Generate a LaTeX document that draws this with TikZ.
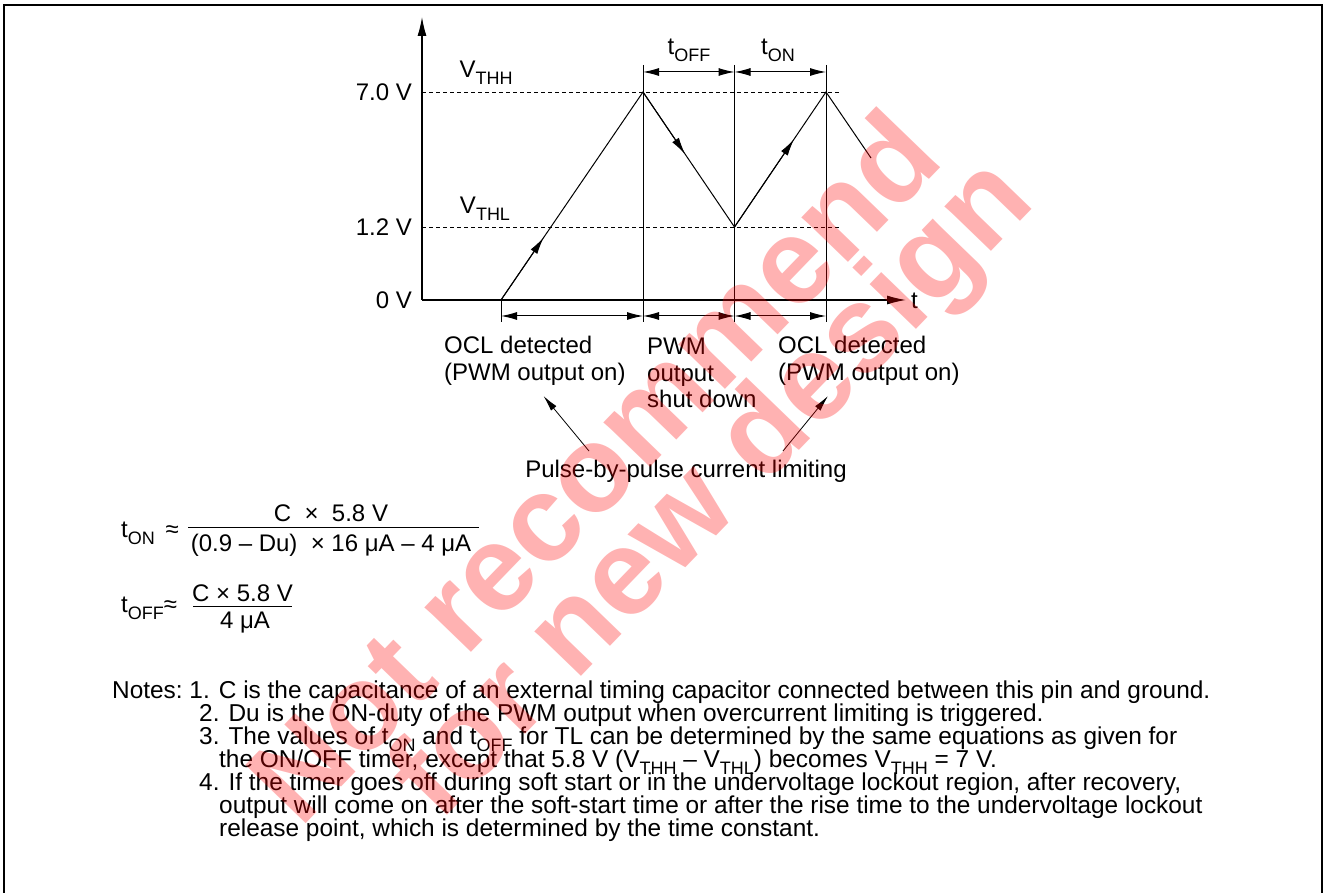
\documentclass[tikz,border=0pt]{standalone}
\usepackage{fontspec}
\setmainfont{Liberation Sans}
\usetikzlibrary{arrows.meta,calc,positioning}
\newcommand{\lsub}[1]{\raisebox{-0.3em}{\fontsize{18}{18}\selectfont #1}}
\tikzset{
  lbl/.style={font=\fontsize{24}{26.5}\selectfont, inner sep=0pt},
  note/.style={font=\fontsize{24.4}{23}\selectfont, inner sep=0pt, anchor=base west},
  thinline/.style={line width=1pt},
  tip/.style={-{Latex[length=17pt,width=8pt]}},
  dim/.style={{Latex[length=16pt,width=8pt]}-{Latex[length=16pt,width=8pt]}, line width=1pt},
  level/.style={dash pattern=on 4pt off 3pt, line width=0.8pt},
  wm/.style={font=\fontsize{122}{122}\selectfont\bfseries, text=red, opacity=0.3, inner sep=0pt}
}
\begin{document}
\begin{tikzpicture}[x=1pt,y=-1pt]
	\useasboundingbox (0,0) rectangle (1326,893);
	\draw[line width=2.5pt] (4,893) -- (4,5) -- (1322,5) -- (1322,893);
	% axes
	\coordinate (orig) at (422,300);
	\coordinate (ytop) at (422,17);
	\coordinate (xend) at (906,300);
	\draw[line width=1.2pt, -{Latex[length=19pt,width=9pt]}] (orig) -- (ytop);
	\draw[line width=1.2pt, -{Latex[length=19pt,width=9pt]}] (orig) -- (xend);
	\node[lbl, anchor=west] (tlab) at (911,301) {t};
	% levels
	\coordinate (hiL) at (422,92);
	\coordinate (hiR) at (841,92);
	\coordinate (loL) at (422,227);
	\coordinate (loR) at (841,227);
	\draw[level] (hiL) -- (hiR);
	\draw[level] (loL) -- (loR);
	\node[lbl, anchor=east] (v7) at (412,92) {7.0 V};
	\node[lbl, anchor=east] (v12) at (412,227) {1.2 V};
	\node[lbl, anchor=east] (v0) at (412,300) {0 V};
	\node[lbl] (vthh) at (486,73) {V\lsub{THH}};
	\node[lbl] (vthl) at (485,209) {V\lsub{THL}};
	% waveform
	\coordinate (start) at (501,300);
	\coordinate (pkA) at (643,92);
	\coordinate (val) at (734.5,227);
	\coordinate (pkB) at (826,92);
	\coordinate (fall) at (871,158);
	\draw[thinline] (start) -- (pkA) -- (val) -- (pkB) -- (fall);
	\draw[thinline, tip] (start) -- ($(start)!0.30!(pkA)$);
	\draw[thinline, tip] (pkA) -- ($(pkA)!0.46!(val)$);
	\draw[thinline, tip] (val) -- ($(val)!0.65!(pkB)$);
	% time marks
	\draw[thinline] (643,65) -- (643,322);
	\draw[thinline] (734.5,65) -- (734.5,322);
	\draw[thinline] (826,65) -- (826,322);
	\draw[thinline] (start) -- (501,322);
	\draw[dim] (643,72) -- (734.5,72);
	\draw[dim] (734.5,72) -- (826,72);
	\draw[dim] (501,316) -- (643,316);
	\draw[dim] (643,316) -- (734.5,316);
	\draw[dim] (734.5,316) -- (826,316);
	\node[lbl] (toffl) at (689,50) {t\lsub{OFF}};
	\node[lbl] (tonl) at (778,50) {t\lsub{ON}};
	% states
	\node[lbl, anchor=west, align=left] (oclA) at (444,361) {OCL detected\\(PWM output on)};
	\node[lbl, anchor=west, align=left] (shut) at (647,373) {PWM\\output\\shut down};
	\node[lbl, anchor=west, align=left] (oclB) at (778,361) {OCL detected\\(PWM output on)};
	\node[lbl] (pbp) at (686,471) {Pulse-by-pulse current limiting};
	\coordinate (pbpA) at (589,451);
	\coordinate (pbpB) at (783,451);
	\coordinate (hitA) at (543.5,396);
	\coordinate (hitB) at (828,396);
	\draw[line width=0.8pt, -{Latex[length=16pt,width=7pt]}] (pbpA) -- (hitA);
	\draw[line width=0.8pt, -{Latex[length=16pt,width=7pt]}] (pbpB) -- (hitB);
	% equations
	\node[lbl, anchor=west] (ton) at (121,533) {t\lsub{ON} \,≈};
	\node[lbl] (tonnum) at (331,513) {C \ × \ 5.8 V};
	\node[lbl] (tonden) at (331,545) {(0.9 – Du) \ × 16 μA – 4 μA};
	\draw[thinline] (188,527) -- (479,527);
	\node[lbl, anchor=west] (toff) at (121,608) {t\lsub{OFF}≈};
	\node[lbl] (toffnum) at (242.5,593) {C × 5.8 V};
	\node[lbl] (toffden) at (245,623) {4 μA};
	\draw[thinline] (193,606) -- (292,606);
	% notes
	\node[note] (n1) at (112,698) {Notes:\ 1. C is the capacitance of an external timing capacitor connected between this pin and ground.};
	\node[note] (n2) at (199,721) {2. Du is the ON-duty of the PWM output when overcurrent limiting is triggered.};
	\node[note] (n3) at (199,744) {3. The values of t\lsub{ON} and t\lsub{OFF} for TL can be determined by the same equations as given for};
	\node[note] (n3b) at (219,767) {the ON/OFF timer, except that 5.8 V (V\lsub{THH} – V\lsub{THL}) becomes V\lsub{THH} = 7 V.};
	\node[note] (n4) at (199,790) {4. If the timer goes off during soft start or in the undervoltage lockout region, after recovery,};
	\node[note] (n4b) at (219,813) {output will come on after the soft-start time or after the rise time to the undervoltage lockout};
	\node[note] (n4c) at (219,836) {release point, which is determined by the time constant.};
	% watermark
	\node[wm, rotate=46] (wmA) at (592,465) {Not recommend};
	\node[wm, rotate=46] (wmB) at (716,492) {for new design};
\end{tikzpicture}
\end{document}
